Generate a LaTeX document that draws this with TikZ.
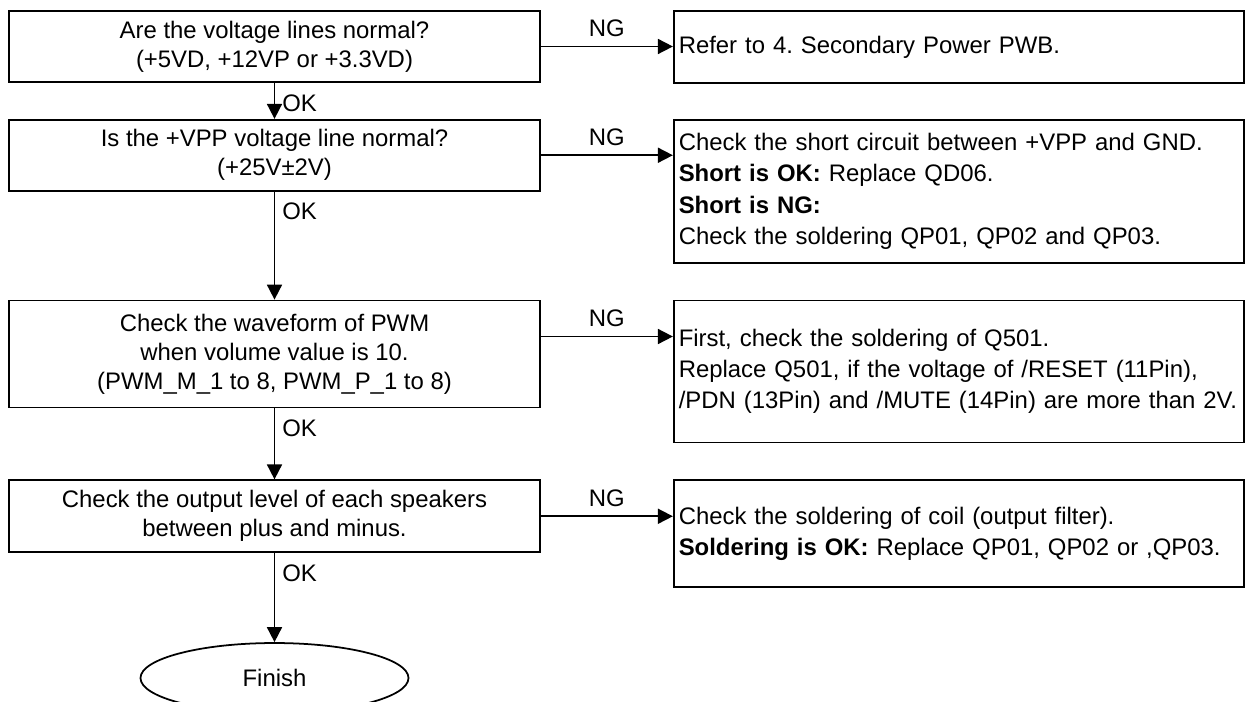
\documentclass[tikz,border=0pt]{standalone}
\usepackage{fontspec}
\setmainfont{Liberation Sans}
\usetikzlibrary{arrows.meta, positioning, shapes.geometric}
\frenchspacing

\begin{document}
\begin{tikzpicture}[
  node distance=0.72cm and 2.64cm,
  check/.style={rectangle, draw, line width=1pt, minimum width=10.62cm, align=center, inner sep=0pt, font=\fontsize{13.6}{16.5}\selectfont},
  action/.style={rectangle, draw, line width=1pt, minimum width=11.4cm, text width=11.2cm, inner xsep=0.1cm, inner ysep=0pt, align=left, anchor=north west, font=\fontsize{13.6}{17.8}\selectfont},
  finish/.style={ellipse, draw, line width=1pt, minimum width=5.36cm, minimum height=1.4cm, inner sep=0pt, font=\fontsize{13.6}{16.5}\selectfont},
  arrow/.style={-{Triangle[length=0.3cm, width=0.3cm]}, line width=1pt},
  ok/.style={pos=0, anchor=west, inner sep=0pt, xshift=0.14cm, yshift=-0.4cm, font=\fontsize{13.6}{16.5}\selectfont},
  ng/.style={midway, above=0.17cm, inner sep=0pt, font=\fontsize{13.6}{16.5}\selectfont},
]
  \useasboundingbox (0,0) rectangle (25,-14.04);

  % Checks (left)
  \node[check, minimum height=1.42cm] (volt) at (5.49,-0.93) {Are the voltage lines normal?\\(+5VD, +12VP or +3.3VD)};
  \node[check, minimum height=1.42cm, below=of volt] (vpp) {Is the +VPP voltage line normal?\\(+25V±2V)};
  \node[check, minimum height=2.14cm, below=2.16cm of vpp] (pwm) {Check the waveform of PWM\\when volume value is 10.\\(PWM\_M\_1 to 8, PWM\_P\_1 to 8)};
  \node[check, minimum height=1.44cm, below=1.42cm of pwm] (spk) {Check the output level of each speakers\\between plus and minus.};
  \node[finish, below=1.78cm of spk] (finish) {Finish};

  % Actions (right)
  \node[action, minimum height=1.44cm] (pwb) at ([xshift=2.64cm]volt.north east) {Refer to 4. Secondary Power PWB.};
  \node[action, minimum height=2.86cm] (short) at ([xshift=2.64cm]vpp.north east) {Check the short circuit between +VPP and GND.\\\textbf{Short is OK:} Replace QD06.\\\textbf{Short is NG:}\\Check the soldering QP01, QP02 and QP03.};
  \node[action, minimum height=2.84cm] (q501) at ([xshift=2.64cm]pwm.north east) {First, check the soldering of Q501.\\Replace Q501, if the voltage of /RESET (11Pin),\\/PDN (13Pin) and /MUTE (14Pin) are more than 2V.};
  \node[action, minimum height=2.14cm] (coil) at ([xshift=2.64cm]spk.north east) {Check the soldering of coil (output filter).\\\textbf{Soldering is OK:} Replace QP01, QP02 or ,QP03.};

  \draw[arrow] (volt) -- (vpp) node[ok] {OK};
  \draw[arrow] (vpp) -- (pwm) node[ok] {OK};
  \draw[arrow] (pwm) -- (spk) node[ok] {OK};
  \draw[arrow] (spk) -- (finish) node[ok] {OK};

  \draw[arrow] (volt.east) -- (volt.east -| pwb.west) node[ng] {NG};
  \draw[arrow] (vpp.east) -- (vpp.east -| short.west) node[ng] {NG};
  \draw[arrow] ([yshift=0.35cm]pwm.east) -- ([yshift=0.35cm]pwm.east -| q501.west) node[ng] {NG};
  \draw[arrow] (spk.east) -- (spk.east -| coil.west) node[ng] {NG};
\end{tikzpicture}
\end{document}
